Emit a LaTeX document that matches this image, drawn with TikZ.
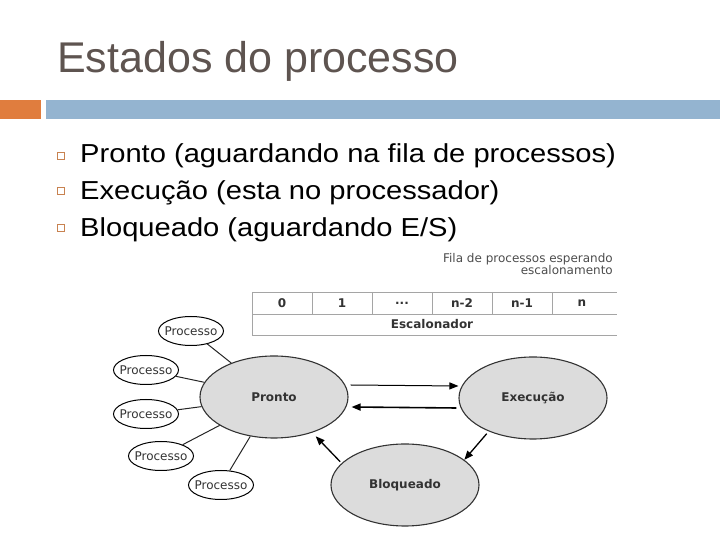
\documentclass[tikz,border=0pt]{standalone}
\usepackage{fontspec}
\usepackage{tikz}
\usetikzlibrary{shapes.geometric,arrows.meta}
\setmainfont{Liberation Sans}
\newfontfamily\bodyfont{Liberation Sans}[FakeStretch=1.12]
\newfontfamily\diagfont{DejaVu Sans}
\definecolor{titlegray}{RGB}{94,84,80}
\definecolor{barorange}{RGB}{224,125,62}
\definecolor{barblue}{RGB}{148,180,208}
\definecolor{bulletbrown}{RGB}{200,130,80}
\definecolor{stategray}{RGB}{220,220,220}
\definecolor{gridgray}{RGB}{165,165,165}

\begin{document}
\begin{tikzpicture}[x=1pt,y=1pt,
    state/.style={ellipse, draw=black!80, line width=1.1pt, fill=stategray,
      minimum width=148pt, minimum height=82pt, inner sep=0pt,
      font=\diagfont\bfseries\fontsize{12}{14}\selectfont, text=black!80},
    proc/.style={ellipse, draw=black, line width=1pt, fill=white,
      minimum width=65pt, minimum height=29pt, inner xsep=-10pt, inner ysep=-3pt,
      font=\diagfont\fontsize{12}{14}\selectfont, text=black!80},
    cell/.style={font=\diagfont\bfseries\fontsize{12}{14}\selectfont, text=black!80},
    bullet/.style={draw=bulletbrown, line width=1pt, minimum size=7pt, inner sep=0pt},
    item/.style={anchor=base west, inner sep=0pt, font=\bodyfont\fontsize{26}{30}\selectfont},
    arr/.style={-{Triangle[length=9pt,width=7pt]}, line width=1.3pt},
  ]
  \useasboundingbox (0,0) rectangle (720,540);

  % title and bar
  \node[anchor=base west, inner sep=0pt, text=titlegray,
        font=\fontsize{43}{50}\selectfont] (title) at (57,467) {Estados do processo};
  \fill[barorange] (0,421) rectangle (41,440);
  \fill[barblue] (46,421) rectangle (720,440);

  % bullets
  \node[bullet] (b1) at (60.5,383.5) {};
  \node[bullet] (b2) at (60.5,348.5) {};
  \node[bullet] (b3) at (60.5,312) {};
  \node[item] (t1) at (80,377) {Pronto (aguardando na fila de processos)};
  \node[item] (t2) at (80,340) {Execução (esta no processador)};
  \node[item] (t3) at (80,303) {Bloqueado (aguardando E/S)};

  % fila
  \node[anchor=base east, inner sep=0pt, align=right, text=black!70,
        font=\diagfont\fontsize{12}{12.5}\selectfont] (fila) at (613,265)
        {Fila de processos esperando\\escalonamento};
  \draw[gridgray, line width=0.8pt] (252,248) -- (617,248)
        (252,226) -- (617,226) (252,205) -- (617,205) (252,248) -- (252,205);
  \foreach \xx in {312,372,432,492,552}
    \draw[gridgray, line width=0.8pt] (\xx,248) -- (\xx,226);
  \node[cell] (c0) at (282,237) {0};
  \node[cell] (c1) at (342,237) {1};
  \node[cell] (c2) at (402,237) {...};
  \node[cell] (c3) at (462,237) {n-2};
  \node[cell] (c4) at (522,237) {n-1};
  \node[cell] (c5) at (582,237) {n};
  \node[cell] (esc) at (432,215.5) {Escalonador};

  % estados
  \node[state] (pronto) at (274,143) {Pronto};
  \node[state] (exec) at (533,142) {Execução};
  \node[state] (bloq) at (405,55) {Bloqueado};

  \node[proc] (p1) at (191,209) {Processo};
  \node[proc] (p2) at (146,170) {Processo};
  \node[proc] (p3) at (146,126) {Processo};
  \node[proc] (p4) at (161,84) {Processo};
  \node[proc] (p5) at (221,55) {Processo};
  \foreach \p in {p1,p2,p3,p4,p5}
    \draw[line width=1pt, black!85] (\p) -- (pronto);

  \draw[arr, line width=1pt] ([xshift=2pt,yshift=12pt]pronto.east) -- ([yshift=12pt]exec.west);
  \draw[arr, line width=1.6pt] ([xshift=-2pt,yshift=-10pt]exec.west) -- ([xshift=3pt,yshift=-10pt]pronto.east);
  \draw[arr, shorten <=3pt] (exec.217) -- (bloq.23);
  \draw[arr, shorten <=2pt, shorten >=5pt] (bloq.161) -- (pronto.317);
\end{tikzpicture}
\end{document}
